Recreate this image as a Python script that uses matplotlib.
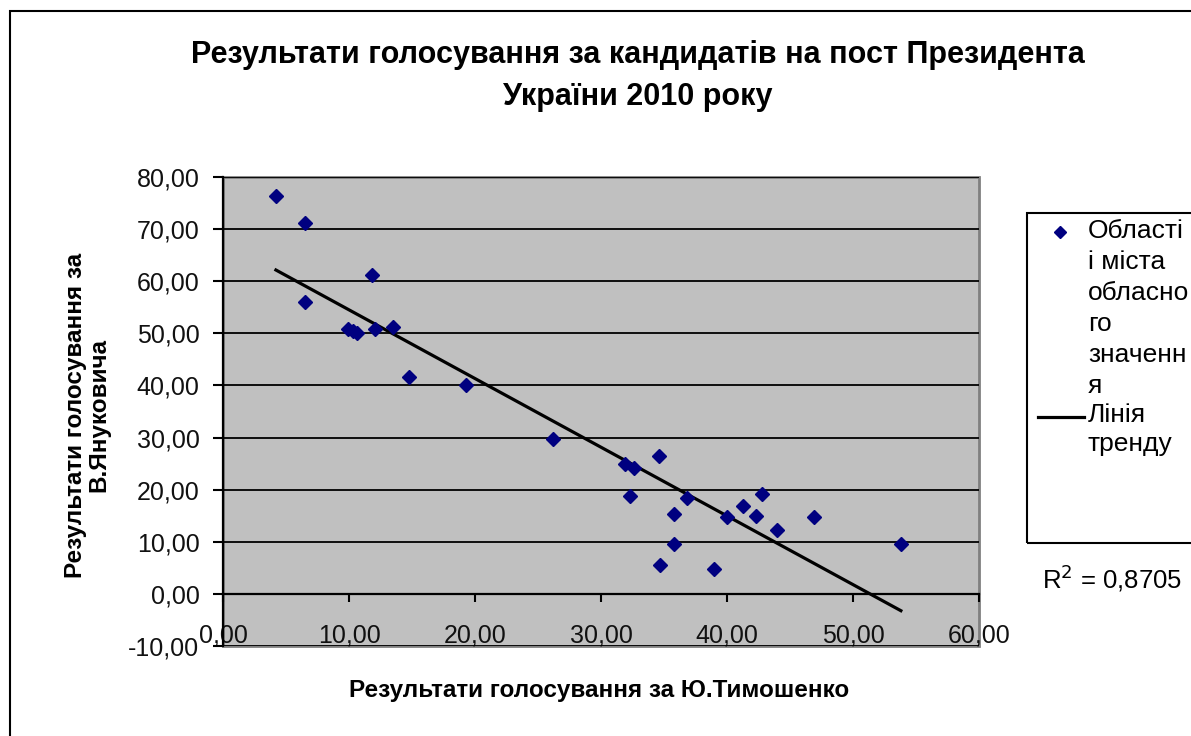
import numpy as np
import matplotlib
matplotlib.use("Agg")
import matplotlib.pyplot as plt
from matplotlib.patches import Rectangle
from matplotlib.lines import Line2D
from matplotlib.ticker import FuncFormatter, MultipleLocator

plt.rcParams['font.family'] = ['Liberation Sans', 'DejaVu Sans']

# Data (Tymoshenko %, Yanukovych %)
tymoshenko = [4.2, 6.5, 6.5, 11.8, 9.95, 10.3, 10.6, 12.1, 13.5, 14.8, 19.3,
              26.2, 31.9, 32.6, 32.3, 34.6, 35.8, 35.8, 34.7, 36.8, 40.0,
              41.3, 42.3, 42.8, 44.0, 39.0, 46.9, 53.8]
yanukovych = [76.3, 71.2, 56.0, 61.1, 50.8, 50.5, 50.0, 50.8, 51.3, 41.7, 40.1,
              29.7, 25.0, 24.1, 18.75, 26.5, 15.4, 9.6, 5.5, 18.4, 14.8,
              16.9, 15.0, 19.1, 12.3, 4.7, 14.7, 9.6]
r2_text = "R$^2$ = 0,8705"
title = "Результати голосування за кандидатів на пост Президента\nУкраїни 2010 року"
xlabel = "Результати голосування за Ю.Тимошенко"
ylabel = "Результати голосування за\nВ.Януковича"
series_label = "Області\nі міста\nобласно\nго\nзначенн\nя"
trend_label = "Лінія\nтренду"

W, H = 1191, 736
fig = plt.figure(figsize=(W / 100, H / 100), dpi=100)
fig.patch.set_facecolor('white')

def fx(px):
    return px / W

def fy(py):
    return 1 - py / H

ax = fig.add_axes([fx(223), fy(646), fx(979) - fx(223), fy(177) - fy(646)])
ax.set_facecolor('#C0C0C0')
ax.patch.set_edgecolor('#808080')
ax.patch.set_linewidth(2)

ax.set_xlim(0, 60)
ax.set_ylim(-10, 80)
ax.xaxis.set_major_locator(MultipleLocator(10))
ax.yaxis.set_major_locator(MultipleLocator(10))
fmt = FuncFormatter(lambda v, p: f"{v:.2f}".replace('.', ','))
ax.xaxis.set_major_formatter(fmt)
ax.yaxis.set_major_formatter(fmt)

ax.grid(axis='y', color='black', linewidth=1.3)
ax.set_axisbelow(True)

for s in ['top', 'right']:
    ax.spines[s].set_visible(False)
ax.spines['bottom'].set_position(('data', 0))
ax.spines['bottom'].set_color('black')
ax.spines['bottom'].set_linewidth(1.6)
ax.spines['left'].set_color('black')
ax.spines['left'].set_linewidth(1.6)

ax.tick_params(axis='x', direction='out', length=6, width=1.5, pad=15,
               labelsize=18, colors='black')
ax.tick_params(axis='y', direction='out', length=7, width=1.5, pad=10,
               labelsize=18, colors='black')
for lbl in ax.get_xticklabels() + ax.get_yticklabels():
    lbl.set_color('#111111')

# scatter
ax.plot(tymoshenko, yanukovych, linestyle='none', marker='D', markersize=7.5,
        color='#000080', zorder=4)

# linear trend line computed from the data
xs = np.array(tymoshenko)
ys = np.array(yanukovych)
k, b = np.polyfit(xs, ys, 1)
xt = np.array([xs.min(), xs.max()])
ax.plot(xt, k * xt + b, color='black', linewidth=2.3, zorder=3)

# title and axis labels
fig.text(fx(638), fy(76), title, ha='center', va='center', fontsize=22,
         fontweight='bold', linespacing=1.55)
fig.text(fx(599), fy(691), xlabel, ha='center', va='center', fontsize=17.5,
         fontweight='bold')
fig.text(fx(87), fy(415), ylabel, ha='center', va='center', fontsize=17.5,
         fontweight='bold', rotation=90, linespacing=1.0)

# outer chart border
fig.patches.append(Rectangle((fx(10), -0.1), 2, fy(11) + 0.1,
                             transform=fig.transFigure, fill=False,
                             edgecolor='black', linewidth=1.5))

# legend box (manual, extends past right edge)
fig.patches.append(Rectangle((fx(1027), fy(543)), 0.5, fy(213) - fy(543),
                             transform=fig.transFigure, fill=False,
                             edgecolor='black', linewidth=1.5))
fig.add_artist(Line2D([fx(1060)], [fy(232)], marker='D', markersize=6,
                      color='#000080', linestyle='none',
                      transform=fig.transFigure))
fig.text(fx(1088), fy(219), series_label, ha='left', va='top', fontsize=19,
         linespacing=1.37)
fig.add_artist(Line2D([fx(1038), fx(1084)], [fy(417), fy(417)],
                      color='black', linewidth=2.3,
                      transform=fig.transFigure))
fig.text(fx(1088), fy(403), trend_label, ha='left', va='top', fontsize=19,
         linespacing=1.26)

fig.text(fx(1042), fy(578), r2_text, ha='left', va='center', fontsize=18.5)

fig.savefig('out.png', dpi=100)
